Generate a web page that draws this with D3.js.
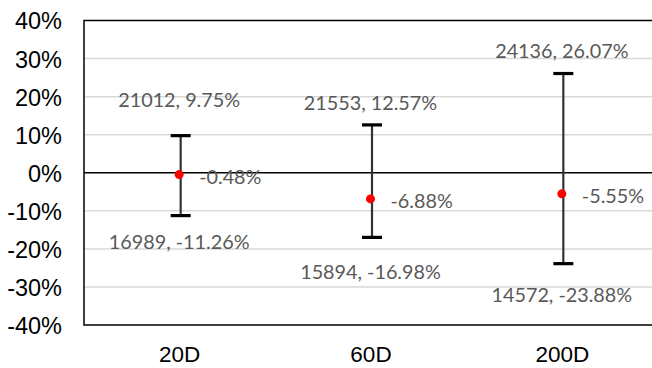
<!DOCTYPE html>
<html>
<head>
<meta charset="utf-8">
<script src="https://cdn.jsdelivr.net/npm/d3@7"></script>
<style>
  html, body { margin: 0; padding: 0; background: #fff; }
  svg { display: block; }
</style>
</head>
<body>
<div id="chart"></div>
<script>
// ---- data ----
const categories = ["20D", "60D", "200D"];
const midValues = [-0.48, -6.88, -5.55];
const highValues = [9.75, 12.57, 26.07];
const lowValues = [-11.26, -16.98, -23.88];
const highCounts = [21012, 21553, 24136];
const lowCounts = [16989, 15894, 14572];
const yTicks = [-40, -30, -20, -10, 0, 10, 20, 30, 40];

// label offsets (layout, px) for high/low labels relative to bar ends
const highLabelOffset = [-36, -22, -22];
const lowLabelOffset = [26, 35, 31];

const W = 652, H = 368;
const margin = { left: 84, top: 20.5, right: -6, bottom: 43 };

const svg = d3.select("#chart").append("svg")
  .attr("width", W).attr("height", H);

const x = d3.scaleBand()
  .domain(categories)
  .range([margin.left, W - margin.right])
  .paddingInner(0).paddingOuter(0);

const y = d3.scaleLinear()
  .domain([-40, 40])
  .range([H - margin.bottom, margin.top]);

const cx = c => x(c) + x.bandwidth() / 2 - 0.5;

// gridlines
svg.append("g")
  .selectAll("line")
  .data(yTicks.filter(t => t !== 0 && t !== 40 && t !== -40))
  .join("line")
  .attr("x1", margin.left).attr("x2", W)
  .attr("y1", d => y(d)).attr("y2", d => y(d))
  .attr("stroke", "#d9d9d9").attr("stroke-width", 1.5);

// plot border
svg.append("rect")
  .attr("x", margin.left).attr("y", y(40))
  .attr("width", W - margin.left + 10).attr("height", y(-40) - y(40))
  .attr("fill", "none").attr("stroke", "#000").attr("stroke-width", 1.5);

// zero line
svg.append("line")
  .attr("x1", margin.left).attr("x2", W)
  .attr("y1", y(0)).attr("y2", y(0))
  .attr("stroke", "#000").attr("stroke-width", 1.5);

// y axis labels
const yAxis = d3.axisLeft(y).tickValues(yTicks).tickSize(0).tickPadding(0)
  .tickFormat(d => d + "%");
const gy = svg.append("g").attr("transform", `translate(${margin.left - 22},0)`).call(yAxis);
gy.select(".domain").remove();
gy.selectAll("text")
  .attr("font-family", "'Liberation Sans', Arial, sans-serif")
  .attr("font-size", 23.5).attr("fill", "#000").attr("dy", "0.36em");

// x axis labels
const xAxis = d3.axisBottom(x).tickSize(0).tickPadding(0);
const gx = svg.append("g").attr("transform", `translate(0,${H - 6})`).call(xAxis);
gx.select(".domain").remove();
gx.selectAll("text")
  .attr("font-family", "'Liberation Sans', Arial, sans-serif")
  .attr("font-size", 22.5).attr("fill", "#000").attr("dy", 0);

// error bars
const bars = svg.append("g");
categories.forEach((c, i) => {
  const bx = cx(c) + 1.5;
  bars.append("line")
    .attr("x1", bx).attr("x2", bx)
    .attr("y1", y(highValues[i])).attr("y2", y(lowValues[i]))
    .attr("stroke", "#333").attr("stroke-width", 2.2);
  [highValues[i], lowValues[i]].forEach(v => {
    bars.append("line")
      .attr("x1", bx - 10).attr("x2", bx + 10)
      .attr("y1", y(v)).attr("y2", y(v))
      .attr("stroke", "#000").attr("stroke-width", 3.2);
  });
});

// points
svg.append("g").selectAll("circle")
  .data(categories)
  .join("circle")
  .attr("cx", d => cx(d))
  .attr("cy", (d, i) => y(midValues[i]))
  .attr("r", 4.5)
  .attr("fill", "#ff0000");

const labelFont = "Lato, 'Open Sans', sans-serif";
const labelSize = 19.8;
const labelColor = "#595959";

// mid labels
svg.append("g").selectAll("text")
  .data(categories)
  .join("text")
  .attr("x", d => cx(d) + 20)
  .attr("y", (d, i) => y(midValues[i]) + 2)
  .attr("dy", "0.35em")
  .attr("font-family", labelFont).attr("font-size", labelSize)
  .attr("fill", labelColor)
  .text((d, i) => midValues[i].toFixed(2) + "%");

// high labels
svg.append("g").selectAll("text")
  .data(categories)
  .join("text")
  .attr("x", d => cx(d))
  .attr("y", (d, i) => y(highValues[i]) + highLabelOffset[i])
  .attr("dy", "0.35em")
  .attr("text-anchor", "middle")
  .attr("font-family", labelFont).attr("font-size", labelSize)
  .attr("fill", labelColor)
  .text((d, i) => highCounts[i] + ", " + highValues[i].toFixed(2) + "%");

// low labels
svg.append("g").selectAll("text")
  .data(categories)
  .join("text")
  .attr("x", d => cx(d))
  .attr("y", (d, i) => y(lowValues[i]) + lowLabelOffset[i])
  .attr("dy", "0.35em")
  .attr("text-anchor", "middle")
  .attr("font-family", labelFont).attr("font-size", labelSize)
  .attr("fill", labelColor)
  .text((d, i) => lowCounts[i] + ", " + lowValues[i].toFixed(2) + "%");
</script>
</body>
</html>
